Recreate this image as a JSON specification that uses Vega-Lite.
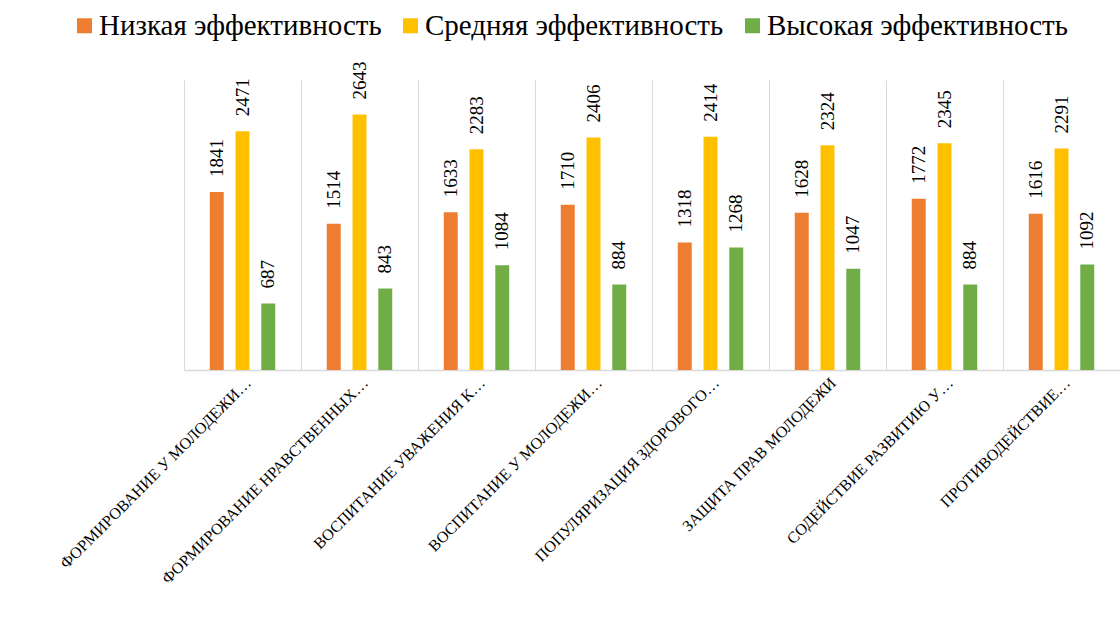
{
  "$schema": "https://vega.github.io/schema/vega-lite/v6.json",
  "width": 936,
  "height": 290,
  "autosize": {"type": "none"},
  "padding": {"left": 184, "top": 80, "right": 0, "bottom": 265},
  "background": "white",
  "config": {
    "view": {"stroke": null},
    "font": "Times New Roman, Liberation Serif, serif",
    "legend": {"labelFont": "Times New Roman, Liberation Serif, serif"},
    "axis": {"labelFont": "Times New Roman, Liberation Serif, serif"}
  },
  "data": {
    "values": [
      {"category": "ФОРМИРОВАНИЕ У МОЛОДЕЖИ…", "series": "Низкая эффективность", "value": 1841},
      {"category": "ФОРМИРОВАНИЕ У МОЛОДЕЖИ…", "series": "Средняя эффективность", "value": 2471},
      {"category": "ФОРМИРОВАНИЕ У МОЛОДЕЖИ…", "series": "Высокая эффективность", "value": 687},
      {"category": "ФОРМИРОВАНИЕ НРАВСТВЕННЫХ…", "series": "Низкая эффективность", "value": 1514},
      {"category": "ФОРМИРОВАНИЕ НРАВСТВЕННЫХ…", "series": "Средняя эффективность", "value": 2643},
      {"category": "ФОРМИРОВАНИЕ НРАВСТВЕННЫХ…", "series": "Высокая эффективность", "value": 843},
      {"category": "ВОСПИТАНИЕ УВАЖЕНИЯ К…", "series": "Низкая эффективность", "value": 1633},
      {"category": "ВОСПИТАНИЕ УВАЖЕНИЯ К…", "series": "Средняя эффективность", "value": 2283},
      {"category": "ВОСПИТАНИЕ УВАЖЕНИЯ К…", "series": "Высокая эффективность", "value": 1084},
      {"category": "ВОСПИТАНИЕ У МОЛОДЕЖИ…", "series": "Низкая эффективность", "value": 1710},
      {"category": "ВОСПИТАНИЕ У МОЛОДЕЖИ…", "series": "Средняя эффективность", "value": 2406},
      {"category": "ВОСПИТАНИЕ У МОЛОДЕЖИ…", "series": "Высокая эффективность", "value": 884},
      {"category": "ПОПУЛЯРИЗАЦИЯ ЗДОРОВОГО…", "series": "Низкая эффективность", "value": 1318},
      {"category": "ПОПУЛЯРИЗАЦИЯ ЗДОРОВОГО…", "series": "Средняя эффективность", "value": 2414},
      {"category": "ПОПУЛЯРИЗАЦИЯ ЗДОРОВОГО…", "series": "Высокая эффективность", "value": 1268},
      {"category": "ЗАЩИТА ПРАВ МОЛОДЕЖИ", "series": "Низкая эффективность", "value": 1628},
      {"category": "ЗАЩИТА ПРАВ МОЛОДЕЖИ", "series": "Средняя эффективность", "value": 2324},
      {"category": "ЗАЩИТА ПРАВ МОЛОДЕЖИ", "series": "Высокая эффективность", "value": 1047},
      {"category": "СОДЕЙСТВИЕ РАЗВИТИЮ У…", "series": "Низкая эффективность", "value": 1772},
      {"category": "СОДЕЙСТВИЕ РАЗВИТИЮ У…", "series": "Средняя эффективность", "value": 2345},
      {"category": "СОДЕЙСТВИЕ РАЗВИТИЮ У…", "series": "Высокая эффективность", "value": 884},
      {"category": "ПРОТИВОДЕЙСТВИЕ…", "series": "Низкая эффективность", "value": 1616},
      {"category": "ПРОТИВОДЕЙСТВИЕ…", "series": "Средняя эффективность", "value": 2291},
      {"category": "ПРОТИВОДЕЙСТВИЕ…", "series": "Высокая эффективность", "value": 1092}
    ]
  },
  "encoding": {
    "x": {
      "field": "category",
      "type": "nominal",
      "sort": null,
      "scale": {"paddingInner": 0, "paddingOuter": 0},
      "axis": {
        "title": null,
        "grid": true,
        "gridColor": "#d9d9d9",
        "gridWidth": 1,
        "bandPosition": 0,
        "ticks": false,
        "domainColor": "#d9d9d9",
        "domainWidth": 1.5,
        "labelAngle": -45,
        "labelAlign": "right",
        "labelBaseline": "middle",
        "labelFontSize": 16,
        "labelColor": "#000000",
        "labelPadding": 10,
        "labelOffset": 6,
        "labelLimit": 0
      }
    },
    "xOffset": {
      "field": "series",
      "type": "nominal",
      "sort": ["Низкая эффективность", "Средняя эффективность", "Высокая эффективность"],
      "scale": {"paddingInner": 0.458, "paddingOuter": 1.167}
    },
    "y": {
      "field": "value",
      "type": "quantitative",
      "scale": {"domain": [0, 3000], "nice": false},
      "axis": null
    }
  },
  "layer": [
    {
      "mark": {"type": "bar"},
      "encoding": {
        "color": {
          "field": "series",
          "type": "nominal",
          "sort": ["Низкая эффективность", "Средняя эффективность", "Высокая эффективность"],
          "scale": {
            "domain": ["Низкая эффективность", "Средняя эффективность", "Высокая эффективность"],
            "range": ["#ED7D31", "#FFC000", "#70AD47"]
          },
          "legend": {
            "title": null,
            "orient": "none",
            "direction": "horizontal",
            "legendX": -114,
            "legendY": -69,
            "padding": 0,
            "symbolType": "square",
            "symbolSize": 225,
            "symbolStrokeWidth": 0,
            "labelFontSize": 29,
            "labelColor": "#000000",
            "labelOffset": 0,
            "columnPadding": 14,
            "labelLimit": 0
          }
        }
      }
    },
    {
      "mark": {
        "type": "text",
        "angle": -90,
        "align": "left",
        "baseline": "middle",
        "dx": 15,
        "fontSize": 19,
        "fill": "#000000"
      },
      "encoding": {
        "text": {"field": "value", "type": "quantitative"}
      }
    }
  ]
}
